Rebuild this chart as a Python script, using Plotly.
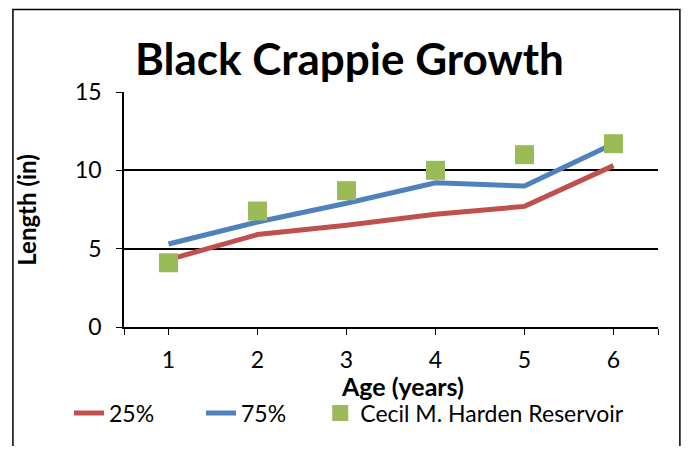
import plotly.graph_objects as go


ages = [1, 2, 3, 4, 5, 6]

p25 = [4.3, 5.9, 6.5, 7.2, 7.7, 10.3]

p75 = [5.3, 6.7, 7.9, 9.2, 9.0, 11.7]

cecil = [4.1, 7.4, 8.7, 10.0, 11.0, 11.7]

y_ticks = [0, 5, 10, 15]


FONT = "Lato"


fig = go.Figure()


fig.add_trace(
    go.Scatter(
        x=ages,
        y=p25,
        mode="lines",
        name="25%",
        line=dict(color="#C0504D", width=5)
    )
)


fig.add_trace(
    go.Scatter(
        x=ages,
        y=p75,
        mode="lines",
        name="75%",
        line=dict(color="#4F81BD", width=5)
    )
)


# the marker series gets its own legend box, placed like the original
fig.add_trace(
    go.Scatter(
        x=ages,
        y=cecil,
        mode="markers",
        name="Cecil M. Harden Reservoir",
        marker=dict(symbol="square", size=19, color="#9BBB59"),
        legend="legend2"
    )
)


# chart frame
fig.add_shape(
    type="rect",
    xref="paper",
    yref="paper",
    x0=-0.208,
    x1=1.041,
    y0=-0.6,
    y1=1.351,
    line=dict(color="black", width=1.5),
    layer="below"
)


fig.add_annotation(
    text="<b>Black Crappie Growth</b>",
    xref="paper", yref="paper",
    x=0.423, y=1.145,
    xanchor="center", yanchor="middle",
    showarrow=False,
    font=dict(family=FONT, size=44, color="black")
)

fig.add_annotation(
    text="<b>Age (years)</b>",
    xref="paper", yref="paper",
    x=0.522, y=-0.25,
    xanchor="center", yanchor="middle",
    showarrow=False,
    font=dict(family=FONT, size=25, color="black")
)

fig.add_annotation(
    text="<b>Length (in)</b>",
    xref="paper", yref="paper",
    x=-0.182, y=0.498,
    xanchor="center", yanchor="middle",
    textangle=-90,
    showarrow=False,
    font=dict(family=FONT, size=24, color="black")
)


fig.update_layout(
    width=673,
    height=438,
    margin=dict(l=116, r=23, t=84, b=119),
    paper_bgcolor="white",
    plot_bgcolor="white",
    font=dict(family=FONT, size=23, color="black"),
    xaxis=dict(
        range=[0.5, 6.5],
        tickvals=[0.5] + ages + [6.5],
        ticktext=[""] + [str(a) for a in ages] + [""],
        ticks="outside",
        ticklen=6,
        tickcolor="black",
        ticklabelstandoff=6,
        showline=True,
        linecolor="black",
        linewidth=1.5,
        showgrid=False,
        zeroline=False
    ),
    yaxis=dict(
        range=[0, 15],
        tickvals=y_ticks,
        ticks="outside",
        ticklen=6,
        tickcolor="black",
        ticklabelstandoff=10,
        showline=True,
        linecolor="black",
        linewidth=1.5,
        showgrid=True,
        gridcolor="black",
        gridwidth=1.5,
        zeroline=False
    ),
    legend=dict(
        orientation="h",
        x=-0.103,
        xanchor="left",
        y=-0.275,
        yanchor="top",
        font=dict(family=FONT, size=23),
        entrywidth=87,
        tracegroupgap=0
    ),
    legend2=dict(
        orientation="h",
        x=0.3675,
        xanchor="left",
        y=-0.275,
        yanchor="top",
        font=dict(family=FONT, size=23)
    )
)


fig.write_html("out.html")
